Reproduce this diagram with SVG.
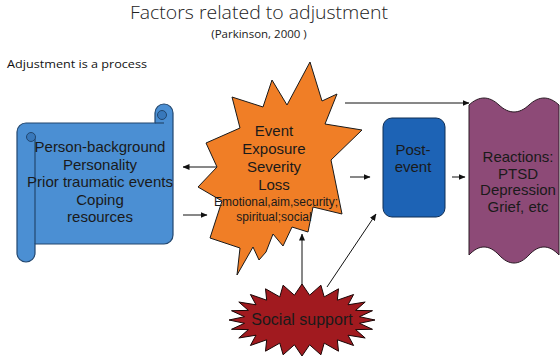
<svg xmlns="http://www.w3.org/2000/svg" width="560" height="361" viewBox="0 0 560 361">
  <defs>
    <marker id="arrow" markerUnits="userSpaceOnUse" markerWidth="7" markerHeight="6" refX="6.5" refY="3" orient="auto">
      <path d="M0,0 L7,3 L0,6 Z" fill="#111"/>
    </marker>
    <style>
      text { font-family: "Liberation Sans", Arial, sans-serif; fill: #1a1a1a; }
      .title { font-family: "Open Sans", "Liberation Sans", sans-serif; font-weight: 300; font-size: 19px; fill: #222; }
      .sub { font-family: "Open Sans", "Liberation Sans", sans-serif; font-size: 11.5px; fill: #222; }
      .note { font-family: "Open Sans", "Liberation Sans", sans-serif; font-size: 11.5px; fill: #111; }
      .lbl { font-size: 15px; text-anchor: middle; }
      .small { font-size: 12px; text-anchor: middle; }
      .conn { stroke: #111; stroke-width: 1; fill: none; marker-end: url(#arrow); }
    </style>
  </defs>

  <rect width="560" height="361" fill="#ffffff"/>

  <!-- headings -->
  <text class="title" x="259" y="19" text-anchor="middle" textLength="258" lengthAdjust="spacingAndGlyphs">Factors related to adjustment</text>
  <text class="sub" x="259" y="38" text-anchor="middle">(Parkinson, 2000 )</text>
  <text class="note" x="7" y="68" textLength="140" lengthAdjust="spacingAndGlyphs">Adjustment is a process</text>

  <!-- connectors -->
  <g id="connectors">
    <line class="conn" x1="217" y1="167" x2="183" y2="167"/>
    <line class="conn" x1="183" y1="215" x2="207" y2="215"/>
    <line class="conn" x1="345" y1="103" x2="469" y2="103"/>
    <line class="conn" x1="350" y1="177" x2="370" y2="177"/>
    <line class="conn" x1="452" y1="177" x2="465" y2="177"/>
    <line class="conn" x1="302" y1="286" x2="302" y2="234"/>
    <line class="conn" x1="327" y1="287" x2="376" y2="214"/>
  </g>

  <!-- scroll: person background -->
  <g id="person">
    <path d="M26,123 H155 V113 A9,9 0 0 1 173,113 V235 A9,9 0 0 1 164,244 H35 V253 A9,9 0 0 1 17,253 V132 A9,9 0 0 1 26,123 Z"
          fill="#4b8fd3" stroke="#22476f" stroke-width="1.2"/>
    <path d="M35,136 V244" fill="none" stroke="#22476f" stroke-width="1.2"/>
    <path d="M155,123 H164" fill="none" stroke="#22476f" stroke-width="1.2"/>
    <circle cx="31" cy="137" r="4.5" fill="#3878bb" stroke="#22476f" stroke-width="1"/>
    <circle cx="162" cy="115" r="4.5" fill="#3878bb" stroke="#22476f" stroke-width="1"/>
    <text class="lbl" x="100" y="152">Person-background</text>
    <text class="lbl" x="100" y="169.5">Personality</text>
    <text class="lbl" x="100" y="187">Prior traumatic events</text>
    <text class="lbl" x="100" y="204.5">Coping</text>
    <text class="lbl" x="100" y="222">resources</text>
  </g>

  <!-- explosion: event -->
  <g id="event">
    <polygon points="310,62 322,101 337,94 325,124 362,130 331,160 342,214 313,207 308,232 292,227 283,246 273,234 266,252 259,260 253,247 237,275 240,248 210,238 222,201 198,187 217,167 206,143 240,128 232,97 263,107 272,80 287,105"
             fill="#f07e26" stroke="#1a1a1a" stroke-width="1"/>
    <text class="lbl" x="274" y="136">Event</text>
    <text class="lbl" x="274" y="154">Exposure</text>
    <text class="lbl" x="274" y="172">Severity</text>
    <text class="lbl" x="274" y="190">Loss</text>
    <text class="small" x="276" y="206">Emotional,aim,security;</text>
    <text class="small" x="274" y="221">spiritual;social</text>
  </g>

  <!-- rounded box: post-event -->
  <g id="post-event">
    <rect x="383" y="118" width="62" height="99" rx="9" ry="9" fill="#1d63b5" stroke="#0f2e55" stroke-width="1"/>
    <text class="lbl" x="413" y="155">Post-</text>
    <text class="lbl" x="413" y="172">event</text>
  </g>

  <!-- wave: reactions -->
  <g id="reactions">
    <path d="M469,105 C479,95.7 489,95.7 499,105 C509,114.3 519,114.3 529,105 C539,95.7 549,95.7 559,105 L559,255 C549,244.3 539,244.3 529,255 C519,265.7 509,265.7 499,255 C489,244.3 479,244.3 469,255 Z"
          fill="#8d4a77" stroke="#2a1a24" stroke-width="1"/>
    <text class="lbl" x="518" y="162">Reactions:</text>
    <text class="lbl" x="518" y="178.5">PTSD</text>
    <text class="lbl" x="518" y="195">Depression</text>
    <text class="lbl" x="518" y="211.5">Grief, etc</text>
  </g>

  <!-- seal: social support -->
  <g id="social-support">
    <polygon points="375,320 359.5,323.3 372.5,329.3 355.6,329.6 365.2,338 348,335.2 353.6,345.5 337.3,339.8 338.5,351.2 324.2,343.1 320.9,354.8 309.6,344.8 302,356 294.4,344.8 283.1,354.8 279.8,343.1 265.5,351.2 266.7,339.8 250.4,345.5 256,335.2 238.8,338 248.4,329.6 231.5,329.3 244.5,323.3 229,320 244.5,316.7 231.5,310.7 248.4,310.4 238.8,302 256,304.8 250.4,294.5 266.7,300.2 265.5,288.8 279.8,296.9 283.1,285.2 294.4,295.2 302,284 309.6,295.2 320.9,285.2 324.2,296.9 338.5,288.8 337.3,300.2 353.6,294.5 348,304.8 365.2,302 355.6,310.4 372.5,310.7 359.5,316.7"
             fill="#a11a1f" stroke="#1a0505" stroke-width="1"/>
    <text x="302" y="325" font-size="16" text-anchor="middle" fill="#2a0505">Social support</text>
  </g>
</svg>
